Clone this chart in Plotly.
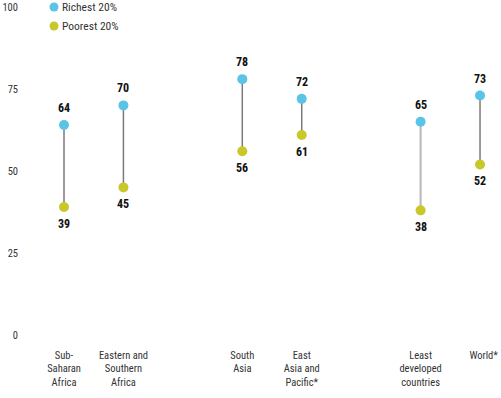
import plotly.graph_objects as go

categories = ["Sub-<br>Saharan<br>Africa", "Eastern and<br>Southern<br>Africa", "South<br>Asia",
              "East<br>Asia and<br>Pacific*", "Least<br>developed<br>countries", "World*"]
positions = [0, 1, 3, 4, 6, 7]
richest = [64, 70, 78, 72, 65, 73]
poorest = [39, 45, 56, 61, 38, 52]
y_ticks = [0, 25, 50, 75, 100]
series_names = ["Richest 20%", "Poorest 20%"]

BLUE = "#5bc3e6"
OLIVE = "#c8c82a"
FONT = "Liberation Sans Narrow, Roboto Condensed, Arial Narrow, Roboto, sans-serif"
line_styles = [("#7a7a7a", 1.5)] * 4 + [("#bdbdbd", 2.2), ("#7a7a7a", 1.5)]

fig = go.Figure()

for p, r, q, (lc, lw) in zip(positions, richest, poorest, line_styles):
    fig.add_trace(go.Scatter(x=[p, p], y=[q, r], mode="lines", line=dict(color=lc, width=lw),
                             showlegend=False, hoverinfo="skip"))

fig.add_trace(go.Scatter(x=positions, y=richest, mode="markers", name=series_names[0],
                         marker=dict(color=BLUE, size=10), showlegend=False))
fig.add_trace(go.Scatter(x=positions, y=poorest, mode="markers", name=series_names[1],
                         marker=dict(color=OLIVE, size=10), showlegend=False))

for p, r, q in zip(positions, richest, poorest):
    fig.add_annotation(x=p, y=r, text=f"<b>{r}</b>", showarrow=False, yshift=17,
                       font=dict(family=FONT, size=12, color="#111"))
    fig.add_annotation(x=p, y=q, text=f"<b>{q}</b>", showarrow=False, yshift=-17,
                       font=dict(family=FONT, size=12, color="#111"))

# custom legend (dot + label) in paper/pixel space
W, H = 501, 398
ML, MR, MT, MB = 30, 0, 7, 63
pw, ph = W - ML - MR, H - MT - MB
def px_to_paper(xp, yp):
    return (xp - ML) / pw, 1 - (yp - MT) / ph

for i, (name, col) in enumerate(zip(series_names, [BLUE, OLIVE])):
    cx, cy = px_to_paper(54, 7 + 19 * i)
    rx, ry = 4.5 / pw, 4.5 / ph
    fig.add_shape(type="circle", xref="paper", yref="paper", x0=cx - rx, x1=cx + rx,
                  y0=cy - ry, y1=cy + ry, fillcolor=col, line=dict(width=0))
    tx, ty = px_to_paper(60, 7 + 19 * i)
    fig.add_annotation(xref="paper", yref="paper", x=tx, y=ty, text=name, showarrow=False,
                       xanchor="left", yanchor="middle",
                       font=dict(family=FONT, size=11.5, color="#333"))

ticktext = categories[:-1] + ["&nbsp;&nbsp;&nbsp;" + categories[-1]]

fig.update_layout(
    width=W, height=H,
    margin=dict(l=ML, r=MR, t=MT, b=MB),
    paper_bgcolor="white", plot_bgcolor="white",
    font=dict(family=FONT, size=11, color="#333"),
    showlegend=False,
    xaxis=dict(range=[-0.572, 7.353], tickvals=positions, ticktext=ticktext,
               showgrid=False, zeroline=False, showline=False, ticks="",
               tickfont=dict(family=FONT, size=10.5, color="#333"), ticklabelstandoff=12),
    yaxis=dict(range=[0, 100], tickvals=y_ticks, showgrid=False, zeroline=False,
               showline=False, ticks="", tickfont=dict(family=FONT, size=10.5, color="#333"),
               ticklabelstandoff=11),
)

fig.write_html("out.html", config={"displayModeBar": False},
               post_script="document.body.style.margin='0';document.body.style.overflow='hidden';")
